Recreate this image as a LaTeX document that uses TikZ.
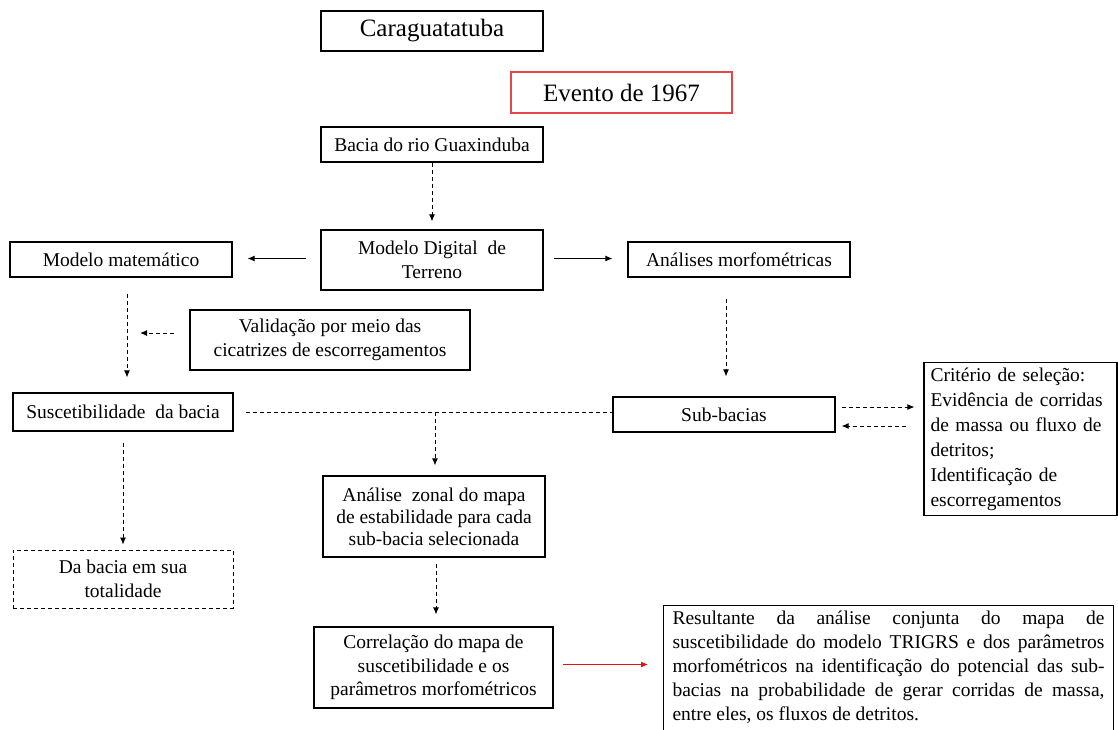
\documentclass[tikz,border=0pt]{standalone}
\usepackage{fontspec}
\setmainfont{Liberation Serif}
\usetikzlibrary{arrows.meta}
\definecolor{evred}{RGB}{228,72,72}
\definecolor{arred}{RGB}{225,20,20}
\begin{document}
\begin{tikzpicture}[x=1pt,y=-1pt,
  box/.style={draw, line width=1.1pt, inner sep=0pt, align=center, font=\fontsize{19.5}{23.5}\selectfont},
  big/.style={font=\fontsize{25}{30}\selectfont},
  conn/.style={line width=1pt, -{Latex[length=7pt,width=6pt]}},
  dsh/.style={dash pattern=on 4pt off 3pt},
]
\useasboundingbox (0,0) rectangle (1118,729);
\clip (0,0) rectangle (1118,729);

\node[box, big, minimum width=222pt, minimum height=40pt] (cara) at (432,31) {Caraguatatuba};
\node[box, big, draw=evred, minimum width=221pt, minimum height=41pt] (evento) at (621.5,92.5) {Evento de 1967};
\node[box, minimum width=222pt, minimum height=35pt] (bacia) at (432,144.5) {Bacia do rio Guaxinduba};
\node[box, minimum width=222pt, minimum height=60pt] (mdt) at (432,260) {Modelo Digital\ \ de\\Terreno};
\node[box, minimum width=222pt, minimum height=35pt] (mm) at (121,259.5) {Modelo matemático};
\node[box, minimum width=222pt, minimum height=35pt] (am) at (739,259.5) {Análises morfométricas};
\node[box, minimum width=280pt, minimum height=60pt] (val) at (330,340) {Validação por meio das\\cicatrizes de escorregamentos};
\node[box, minimum width=220pt, minimum height=38pt] (sus) at (123,412) {Suscetibilidade\ \ da bacia};
\node[box, minimum width=222pt, minimum height=35pt] (sub) at (724,414.5) {Sub-bacias};
\node[box, minimum width=193pt, minimum height=153pt, align=left, text width=180pt,
      font=\fontsize{19.5}{25}\selectfont] (crit) at (1020.5,439)
  {Critério de seleção:\\
   \makebox[180pt][s]{Evidência de corridas}\\
   \makebox[180pt][s]{de massa ou fluxo de}\\
   detritos;\\
   Identificação de\\
   escorregamentos};
\node[box, dsh, line width=0.9pt, minimum width=220pt, minimum height=58pt, font=\fontsize{19.5}{24}\selectfont] (dab) at (123,579) {Da bacia em sua\\totalidade};
\node[box, minimum width=222pt, minimum height=81pt, font=\fontsize{19.5}{22}\selectfont] (az) at (434,516.5) {Análise\ \ zonal do mapa\\de estabilidade para cada\\sub-bacia selecionada};
\node[box, minimum width=239pt, minimum height=81pt] (cor) at (433.5,667.5) {Correlação do mapa de\\suscetibilidade e os\\parâmetros morfométricos};
\node[box, anchor=north west, inner xsep=9pt, inner ysep=5pt, align=left,
      font=\fontsize{19.5}{24}\selectfont] (res) at (663,605)
  {\parbox[t][140pt][t]{432pt}{%
   \makebox[432pt][s]{Resultante da análise conjunta do mapa de}\\
   \makebox[432pt][s]{suscetibilidade do modelo TRIGRS e dos parâmetros}\\
   \makebox[432pt][s]{morfométricos na identificação do potencial das sub-}\\
   \makebox[432pt][s]{bacias na probabilidade de gerar corridas de massa,}\\
   entre eles, os fluxos de detritos.}};

% connectors
\draw[conn,dsh,shorten >=8pt] (bacia) -- (mdt);
\draw[conn,shorten <=14pt,shorten >=15pt] ([yshift=1.5pt]mdt.west) -- ([yshift=1.5pt]mdt.west -| mm.east);
\draw[conn,shorten <=10pt,shorten >=15pt] ([yshift=1.5pt]mdt.east) -- ([yshift=1.5pt]mdt.east -| am.west);
\draw[conn,dsh,shorten <=16pt,shorten >=15pt] ([xshift=6pt]mm.south) -- ([xshift=6pt]mm.south |- sus.north);
\coordinate (vtip) at (140,333);
\draw[conn,dsh,shorten <=15pt] (val.west |- vtip) -- (vtip);
\draw[conn,dsh,shorten <=11pt,shorten >=5pt] (sus) -- (dab);
\draw[dsh,line width=1pt,shorten <=12pt] (sus.east) -- (sus.east -| sub.west);
\coordinate (br) at (435,412);
\draw[conn,dsh,shorten >=10pt] (br) -- (br |- az.north);
\draw[conn,dsh,shorten <=21pt,shorten >=20pt] ([xshift=-13pt]am.south) -- ([xshift=-13pt]am.south |- sub.north);
\draw[conn,dsh,shorten <=6pt,shorten >=9pt] ([yshift=7.5pt]sub.east) -- ([yshift=7.5pt]sub.east -| crit.west);
\draw[conn,dsh,shorten <=17pt,shorten >=6pt] ([yshift=-11.5pt]sub.east -| crit.west) -- ([yshift=-11.5pt]sub.east);
\draw[conn,dsh,shorten <=6pt,shorten >=12pt] ([xshift=2pt]az.south) -- ([xshift=2pt]az.south |- cor.north);
\draw[conn,arred,shorten <=9pt,shorten >=15pt] ([yshift=3pt]cor.east) -- ([yshift=3pt]cor.east -| res.west);
\end{tikzpicture}
\end{document}
